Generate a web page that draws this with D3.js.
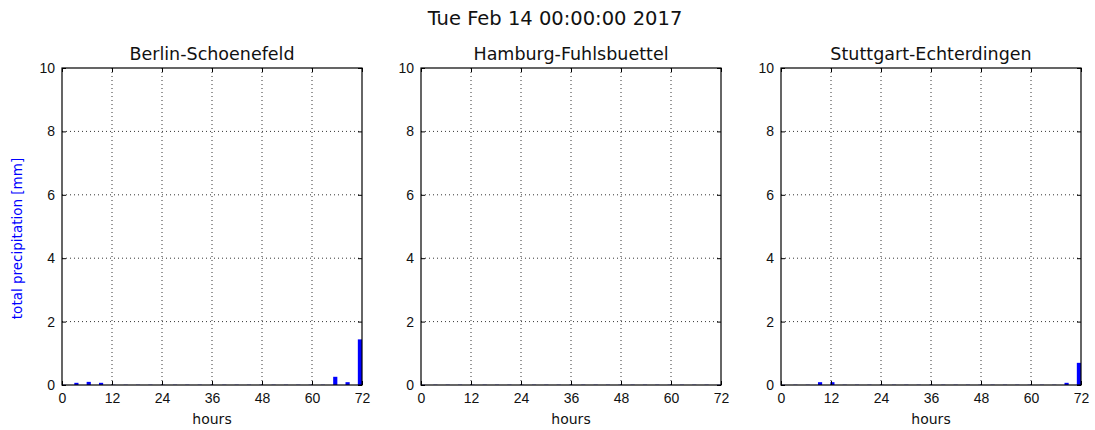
<!DOCTYPE html>
<html>
<head>
<meta charset="utf-8">
<script src="https://d3js.org/d3.v7.min.js"></script>
<style>
  body { margin: 0; background: #fff; }
  svg { font-family: "DejaVu Sans", sans-serif; }
  .grid line { stroke: #000; stroke-dasharray: 1,3; stroke-width: 0.8; }
</style>
</head>
<body>
<div id="chart"></div>
<script>
'use strict';

const title = "Tue Feb 14 00:00:00 2017";
const stations = ["Berlin-Schoenefeld", "Hamburg-Fuhlsbuettel", "Stuttgart-Echterdingen"];
const hours = [0, 3, 6, 9, 12, 15, 18, 21, 24, 27, 30, 33, 36, 39, 42, 45, 48, 51, 54, 57, 60, 63, 66, 69, 72];
const berlin = [0, 0.05, 0.08, 0.05, 0, 0, 0, 0, 0, 0, 0, 0, 0, 0, 0, 0, 0, 0, 0, 0, 0, 0, 0.24, 0.07, 1.42];
const hamburg = [0, 0, 0, 0, 0, 0, 0, 0, 0, 0, 0, 0, 0, 0, 0, 0, 0, 0, 0, 0, 0, 0, 0, 0, 0];
const stuttgart = [0, 0, 0, 0.07, 0.07, 0, 0, 0, 0, 0, 0, 0, 0, 0, 0, 0, 0, 0, 0, 0, 0, 0, 0, 0.05, 0.68];
const seriesList = [berlin, hamburg, stuttgart];
const xTicks = [0, 12, 24, 36, 48, 60, 72];
const yTicks = [0, 2, 4, 6, 8, 10];

const width = 1095, height = 430;
const panelLefts = [62, 421, 781];
const panelW = 300, plotTop = 68, plotBottom = 385;

const svg = d3.select("#chart").append("svg")
    .attr("width", width)
    .attr("height", height);

svg.append("text")
    .attr("x", 555)
    .attr("y", 25)
    .attr("text-anchor", "middle")
    .attr("fill", "#111")
    .style("font-size", "19.5px")
    .text(title);

svg.append("text")
    .attr("transform", "translate(22," + ((plotTop + plotBottom) / 2 + 12) + ") rotate(-90)")
    .attr("text-anchor", "middle")
    .attr("fill", "#0000ff")
    .style("font-size", "13.5px")
    .text("total precipitation [mm]");

stations.forEach(function(name, i) {
    const x = d3.scaleLinear().domain([0, 72]).range([0, panelW]);
    const h = plotBottom - plotTop;
    const y = d3.scaleLinear().domain([0, 10]).range([h, 0]);
    const data = hours.map(function(t, j) { return {t: t, v: seriesList[i][j]}; });

    const g = svg.append("g")
        .attr("transform", "translate(" + panelLefts[i] + "," + plotTop + ")");

    const clipId = "clip" + i;
    g.append("clipPath").attr("id", clipId)
        .append("rect").attr("width", panelW).attr("height", h);

    // grid
    const grid = g.append("g").attr("class", "grid");
    grid.selectAll(".gx").data(xTicks.slice(1, -1)).enter().append("line")
        .attr("x1", d => x(d)).attr("x2", d => x(d))
        .attr("y1", 0).attr("y2", h);
    grid.selectAll(".gy").data(yTicks.slice(1, -1)).enter().append("line")
        .attr("x1", 0).attr("x2", panelW)
        .attr("y1", d => y(d)).attr("y2", d => y(d));

    // bars
    const bw = x(1) - x(0);
    const bars = g.append("g").attr("clip-path", "url(#" + clipId + ")");
    bars.selectAll("rect").data(data).enter().append("rect")
        .attr("x", d => x(d.t * 71 / 72))
        .attr("width", bw)
        .attr("y", d => y(d.v) - 0.6)
        .attr("height", d => y(0) - y(d.v) + 0.6)
        .attr("fill", "#0000ff")
        .attr("fill-opacity", d => d.v > 0 ? 1 : 0.35);

    // axes with inward ticks on all sides
    g.append("g")
        .attr("transform", "translate(0," + h + ")")
        .call(d3.axisBottom(x).tickValues(xTicks).tickSizeInner(-4).tickSizeOuter(0).tickPadding(8))
        .call(a => a.select(".domain").remove())
        .call(a => a.selectAll("text").style("font-size", "14px").attr("fill", "#111"));
    g.append("g")
        .call(d3.axisTop(x).tickValues(xTicks).tickSizeInner(-4).tickSizeOuter(0).tickFormat(""))
        .call(a => a.select(".domain").remove());
    g.append("g")
        .call(d3.axisLeft(y).tickValues(yTicks).tickSizeInner(-4).tickSizeOuter(0).tickPadding(7))
        .call(a => a.select(".domain").remove())
        .call(a => a.selectAll("text").style("font-size", "14px").attr("fill", "#111"));
    g.append("g")
        .attr("transform", "translate(" + panelW + ",0)")
        .call(d3.axisRight(y).tickValues(yTicks).tickSizeInner(-4).tickSizeOuter(0).tickFormat(""))
        .call(a => a.select(".domain").remove());

    g.append("rect")
        .attr("width", panelW).attr("height", h)
        .attr("fill", "none").attr("stroke", "#000").attr("stroke-width", 1.2);

    g.append("text")
        .attr("x", panelW / 2).attr("y", -8)
        .attr("text-anchor", "middle")
        .attr("fill", "#111")
        .style("font-size", "17.5px")
        .text(name);

    g.append("text")
        .attr("x", panelW / 2).attr("y", h + 39)
        .attr("text-anchor", "middle")
        .attr("fill", "#111")
        .style("font-size", "14px")
        .text("hours");
});
</script>
</body>
</html>
